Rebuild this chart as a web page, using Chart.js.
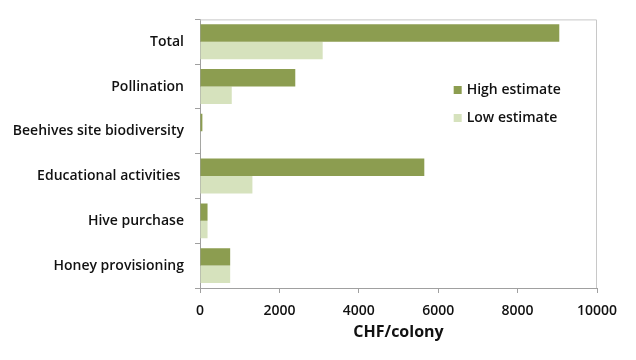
<!DOCTYPE html>
<html><head><meta charset="utf-8">
<script src="https://cdn.jsdelivr.net/npm/chart.js@4"></script>
<style>html,body{margin:0;padding:0;background:#fff}#wrap{width:636px;height:360px;position:relative}</style>
</head><body><div id="wrap"><canvas id="c" width="636" height="360"></canvas></div>
<script>
const categories = ["Total","Pollination","Beehives site biodiversity","Educational activities ","Hive purchase","Honey provisioning"];
const highEstimate = [9050, 2400, 60, 5650, 190, 760];
const lowEstimate = [3090, 800, 10, 1320, 190, 760];
const xTicks = [0, 2000, 4000, 6000, 8000, 10000];
const seriesNames = ["High estimate", "Low estimate"];
const colors = ["#8c9d50", "#d6e2bd"];

const FONT = "'Open Sans', Lato, sans-serif";

const frame = {
  id: 'frame',
  afterDatasetsDraw(chart) {
    const {ctx, chartArea: a} = chart;
    ctx.save();
    ctx.strokeStyle = '#c8c8c8';
    ctx.lineWidth = 1;
    ctx.beginPath();
    ctx.moveTo(a.left, a.top + 0.5);
    ctx.lineTo(a.right - 0.5, a.top + 0.5);
    ctx.lineTo(a.right - 0.5, a.bottom);
    ctx.stroke();
    ctx.restore();
  }
};
const legendInside = {
  id: 'legendInside',
  afterDraw(chart) {
    const {ctx} = chart;
    const x = chart.scales.x.getPixelForValue(6390);
    ctx.save();
    ctx.font = "600 14px " + FONT;
    ctx.textBaseline = 'middle';
    chart.data.datasets.forEach((ds, i) => {
      const y = 90 + i * 28;
      ctx.fillStyle = ds.backgroundColor;
      ctx.fillRect(x, y - 4, 8, 8);
      ctx.fillStyle = '#111';
      ctx.fillText(ds.label, x + 13, y);
    });
    ctx.restore();
  }
};

new Chart(document.getElementById('c'), {
  type: 'bar',
  data: {
    labels: categories,
    datasets: [
      {label: seriesNames[0], data: highEstimate, backgroundColor: colors[0]},
      {label: seriesNames[1], data: lowEstimate, backgroundColor: colors[1]}
    ]
  },
  options: {
    indexAxis: 'y',
    responsive: false,
    animation: false,
    layout: {padding: {left: 0, right: 39, top: 16, bottom: 14}},
    datasets: {bar: {categoryPercentage: 0.78, barPercentage: 1.0}},
    plugins: {legend: {display: false}, tooltip: {enabled: false}},
    scales: {
      x: {
        min: 0, max: 10000,
        afterBuildTicks(s) { s.ticks = xTicks.map(v => ({value: v})); },
        ticks: {color: '#111', font: {family: FONT, size: 14, weight: '600'}, padding: 10, callback: v => String(v)},
        grid: {drawOnChartArea: false, tickLength: 5, color: '#a0a0a0'},
        border: {color: '#a0a0a0'},
        title: {display: true, text: 'CHF/colony', color: '#111', font: {family: FONT, size: 16, weight: 'bold'}, padding: {top: 2}},
        afterFit(s) { s.height = 58; }
      },
      y: {
        ticks: {color: '#111', font: {family: FONT, size: 14, weight: '600'}, padding: 11},
        grid: {drawOnChartArea: false, tickLength: 5, color: '#a0a0a0', offset: true},
        border: {color: '#a0a0a0'},
        afterFit(s) { s.width = 200; }
      }
    }
  },
  plugins: [frame, legendInside]
});
</script></body></html>
